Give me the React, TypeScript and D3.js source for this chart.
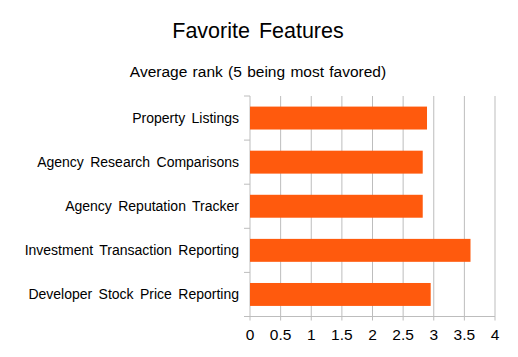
import React from "react";
import * as d3 from "d3";

const categories = [
  "Property Listings",
  "Agency Research Comparisons",
  "Agency Reputation Tracker",
  "Investment Transaction Reporting",
  "Developer Stock Price Reporting",
];
const values = [2.89, 2.82, 2.82, 3.6, 2.95];
const xTicks = [0, 0.5, 1, 1.5, 2, 2.5, 3, 3.5, 4];
const title = "Favorite Features";
const subtitle = "Average rank (5 being most favored)";

const W = 518;
const H = 357;
const left = 250;
const right = 495;
const top = 96;
const bottom = 316.5;

export default function App() {
  const x = d3.scaleLinear().domain([0, 4]).range([left, right]);
  const y = d3.scaleBand<string>().domain(categories).range([top, bottom]).paddingInner(0.48).paddingOuter(0.24);
  const step = y.step();
  const font = "'Liberation Sans', Arial, sans-serif";
  return (
    <svg width={W} height={H} style={{ position: "absolute", left: 0, top: 0 }}>
      <rect width={W} height={H} fill="#fff" />
      <text x={258} y={38} textAnchor="middle" fontFamily={font} fontSize={21.5} wordSpacing={3} fill="#000">{title}</text>
      <text x={258} y={77} textAnchor="middle" fontFamily={font} fontSize={15.5} wordSpacing={1} fill="#000">{subtitle}</text>
      {xTicks.map((t) => (
        <g key={t}>
          <line x1={x(t)} x2={x(t)} y1={top} y2={bottom + 4} stroke="#bdbdbd" strokeWidth={1} />
          <text x={x(t)} y={340} textAnchor="middle" fontFamily={font} fontSize={15.5} fill="#000">{t}</text>
        </g>
      ))}
      <line x1={left - 6} x2={right} y1={bottom} y2={bottom} stroke="#bdbdbd" />
      {d3.range(categories.length + 1).map((i) => (
        <line key={i} x1={left - 6} x2={left} y1={top + i * step} y2={top + i * step} stroke="#bdbdbd" />
      ))}
      {categories.map((c, i) => (
        <g key={c}>
          <rect x={x(0)} y={y(c)!} width={x(values[i]) - x(0)} height={y.bandwidth()} fill="#ff5a0d" />
          <text x={239} y={y(c)! + y.bandwidth() / 2} dy="0.35em" textAnchor="end" fontFamily={font} fontSize={14} wordSpacing={2.5} fill="#000">{c}</text>
        </g>
      ))}
    </svg>
  );
}
